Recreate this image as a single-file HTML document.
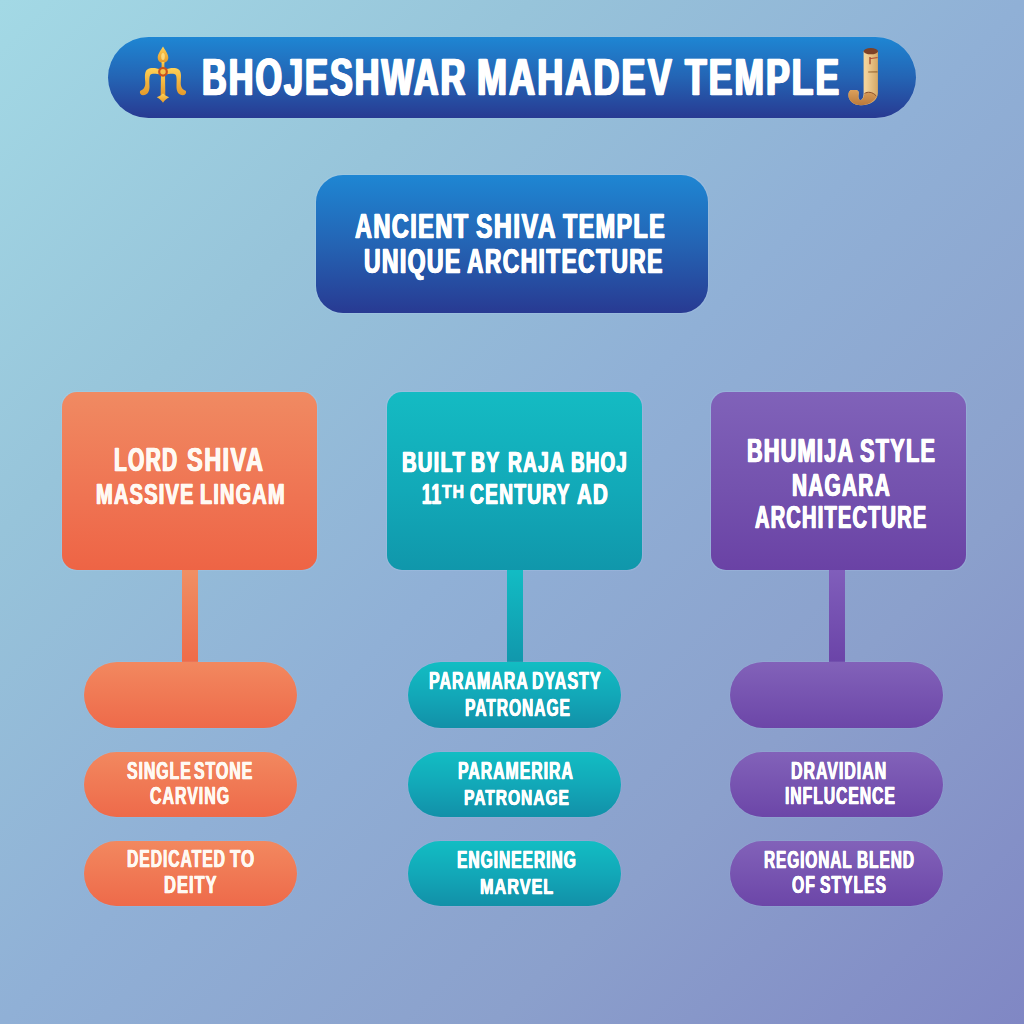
<!DOCTYPE html>
<html><head><meta charset="utf-8">
<style>
html,body{margin:0;padding:0;}
body{width:1024px;height:1024px;overflow:hidden;position:relative;
background:linear-gradient(135deg,#a3d9e5 0%,#97c4da 26%,#90b0d6 50%,#8ba0cc 74%,#8087c4 100%);
font-family:"Liberation Sans",sans-serif;}
.s{position:absolute;box-sizing:border-box;}
.h{box-shadow:0 0 1px 0.5px rgba(195,215,250,0.18);}
.blue{background:linear-gradient(180deg,#1e86d3 0%,#2464b4 50%,#283a92 100%);}
.org{background:linear-gradient(180deg,#f08a62 0%,#ef7352 60%,#ee6445 100%);}
.tea{background:linear-gradient(180deg,#14bbc3 0%,#12a9b8 55%,#1097ab 100%);}
.pur{background:linear-gradient(180deg,#8062b9 0%,#7452ae 55%,#6a42a5 100%);}
.porg{background:linear-gradient(180deg,#f2885f 0%,#ee6a4a 100%);}
.ptea{background:linear-gradient(180deg,#12bdc3 0%,#12a8b8 50%,#1290a8 100%);}
.ppur{background:linear-gradient(180deg,#8262b9 0%,#6c46a8 100%);}
.t{position:absolute;white-space:nowrap;letter-spacing:0.06em;color:#fdfbf6;font-weight:bold;line-height:1;transform-origin:0 0;}
.t sup{font-size:0.62em;vertical-align:0;position:relative;top:-0.42em;}
svg{position:absolute;left:0;top:0;}
</style></head><body>
<!-- title pill -->
<div class="s h blue" style="left:108px;top:37px;width:807.5px;height:81px;border-radius:40.5px;"></div>
<!-- central box -->
<div class="s h blue" style="left:316px;top:175px;width:392px;height:138px;border-radius:27px;"></div>
<!-- three boxes -->
<div class="s h org" style="left:62px;top:392px;width:255px;height:178px;border-radius:15px;"></div>
<div class="s h tea" style="left:387px;top:392px;width:255px;height:178px;border-radius:15px;"></div>
<div class="s h pur" style="left:711px;top:392px;width:255px;height:178px;border-radius:15px;"></div>
<!-- connectors -->
<div class="s" style="left:182px;top:570px;width:16px;height:92px;background:linear-gradient(180deg,#f08f63,#ef6b49);"></div>
<div class="s" style="left:506.5px;top:570px;width:16.5px;height:92px;background:linear-gradient(180deg,#12bcc4,#1197ac);"></div>
<div class="s" style="left:829px;top:570px;width:16.3px;height:92px;background:linear-gradient(180deg,#805ebb,#6b44a8);"></div>
<!-- pills -->
<div class="s h porg" style="left:84px;top:662px;width:213px;height:65.8px;border-radius:33px;"></div>
<div class="s h porg" style="left:84px;top:751.5px;width:213px;height:65.8px;border-radius:33px;"></div>
<div class="s h porg" style="left:84px;top:840.6px;width:213px;height:65.8px;border-radius:33px;"></div>
<div class="s h ptea" style="left:408px;top:662px;width:213px;height:65.8px;border-radius:33px;"></div>
<div class="s h ptea" style="left:408px;top:751.5px;width:213px;height:65.8px;border-radius:33px;"></div>
<div class="s h ptea" style="left:408px;top:840.6px;width:213px;height:65.8px;border-radius:33px;"></div>
<div class="s h ppur" style="left:730px;top:662px;width:213px;height:65.8px;border-radius:33px;"></div>
<div class="s h ppur" style="left:730px;top:751.5px;width:213px;height:65.8px;border-radius:33px;"></div>
<div class="s h ppur" style="left:730px;top:840.6px;width:213px;height:65.8px;border-radius:33px;"></div>
<!-- icons -->
<svg width="1024" height="1024" viewBox="0 0 1024 1024">
<defs>
<linearGradient id="gold" x1="0" y1="0" x2="0" y2="1">
<stop offset="0" stop-color="#ffd257"/><stop offset="0.5" stop-color="#f3b43e"/><stop offset="1" stop-color="#e39a2c"/>
</linearGradient>
<linearGradient id="tan" x1="0" y1="0" x2="1" y2="0">
<stop offset="0" stop-color="#d9b070"/><stop offset="0.15" stop-color="#f7dca6"/><stop offset="0.6" stop-color="#f2d299"/><stop offset="1" stop-color="#d6a865"/>
</linearGradient>
<linearGradient id="hook" x1="0" y1="0" x2="0" y2="1">
<stop offset="0" stop-color="#dca05a"/><stop offset="1" stop-color="#b97a3c"/>
</linearGradient>
</defs>
<!-- trident -->
<g fill="url(#gold)" stroke="none">
<path d="M163 46.5 C161 50 157.7 54 157.7 57.6 C157.7 60.9 160.2 62.9 163 62.9 C165.8 62.9 168.3 60.9 168.3 57.6 C168.3 54 165 50 163 46.5 Z"/>
<rect x="161.6" y="62" width="2.8" height="8"/>
<path d="M161 72 L165 72 L165.3 95 L160.7 95 Z"/>
<path d="M156.8 97.2 C159 96.5 161 95.5 163 93.6 C165 95.5 167 96.5 169.2 97.2 C167 98.2 164.5 100 163 102.8 C161.5 100 159 98.2 156.8 97.2 Z"/>
<path d="M161 69.6 C156 67.6 150.5 67.2 147.3 69.4 C144.6 71.4 144.8 76 145.2 81 C145.6 86 144.6 89 140.4 90.8 C139.2 91.8 140.2 95.3 143 95.3 C147.5 95.3 149.7 91.5 149.5 86 C149.3 81 149.1 76.5 150.4 74.8 C152 73.3 156 73.6 161 74.8 Z"/>
<path d="M 165 69.6 C 170 67.6 175.5 67.2 178.7 69.4 C 181.4 71.4 181.2 76 180.8 81 C 180.4 86 181.4 89 185.6 90.8 C 186.8 91.8 185.8 95.3 183 95.3 C 178.5 95.3 176.3 91.5 176.5 86 C 176.7 81 176.9 76.5 175.6 74.8 C 174 73.3 170 73.6 165 74.8 Z"/>
</g>
<ellipse cx="163" cy="56.5" rx="1.8" ry="3.6" fill="#ffe894" opacity="0.75"/>
<circle cx="163" cy="71.8" r="4.9" fill="#c9521f"/>
<circle cx="163" cy="71.8" r="2.7" fill="#f6c44a"/>
<!-- J scroll -->
<path d="M863.6 51 L863.6 93 C863.6 97 862.5 100 860.5 100 C858.6 100 858 97.5 858.6 93.5 C859 91.5 858 90 855 90 L852 90 C849.5 90 848.4 92 848.4 95 C848.4 101 853.5 105.2 861 105.2 C871 105.2 877.9 100 877.9 93 L877.9 51 Z" fill="url(#tan)"/>
<path d="M848.4 95 C848.4 92 849.5 90 852 90 L855 90 C858 90 859 91.5 858.6 93.5 C858 97.5 858.6 100 860.5 100 C862.5 100 863.6 97 864.5 93.4 C868 91.8 872 92 876.5 96 C875 101 869 105.2 861 105.2 C853.5 105.2 848.4 101 848.4 95 Z" fill="url(#hook)"/>
<ellipse cx="870.8" cy="51.2" rx="7.1" ry="3.1" fill="#7e4126"/>
<path d="M864.5 93.4 C867.5 91.6 872.5 91.6 876.3 96" stroke="#8a4a25" stroke-width="1" fill="none"/>
<path d="M870 57 L870 64.2" stroke="#9a3a22" stroke-width="1.2" fill="none"/>
<path d="M870 58.6 L877.6 57.6" stroke="#b04a30" stroke-width="1" fill="none"/>
<path d="M868.2 72 L877.6 71.8" stroke="#9a6a35" stroke-width="1.2" fill="none"/>
</svg>
<div class="t" style="color:#ffffff;left:201.60px;top:50.53px;font-size:52.59px;transform:scaleX(0.6497);-webkit-text-stroke:0.74px #ffffff;text-shadow:1.60px 0 0 #ffffff,-1.60px 0 0 #ffffff">BHOJESHWAR</div>
<div class="t" style="color:#ffffff;left:477.32px;top:50.53px;font-size:52.59px;transform:scaleX(0.6837);-webkit-text-stroke:0.74px #ffffff;text-shadow:1.50px 0 0 #ffffff,-1.50px 0 0 #ffffff">MAHADEV</div>
<div class="t" style="color:#ffffff;left:684.55px;top:50.53px;font-size:52.59px;transform:scaleX(0.6733);-webkit-text-stroke:0.74px #ffffff;text-shadow:1.53px 0 0 #ffffff,-1.53px 0 0 #ffffff">TEMPLE</div>
<div class="t" style="color:#ffffff;left:355.38px;top:208.56px;font-size:35.41px;transform:scaleX(0.6649);-webkit-text-stroke:0.50px #ffffff;text-shadow:0.90px 0 0 #ffffff,-0.90px 0 0 #ffffff">ANCIENT</div>
<div class="t" style="color:#ffffff;left:476.23px;top:208.56px;font-size:35.41px;transform:scaleX(0.6974);-webkit-text-stroke:0.50px #ffffff;text-shadow:0.85px 0 0 #ffffff,-0.85px 0 0 #ffffff">SHIVA</div>
<div class="t" style="color:#ffffff;left:562.92px;top:208.56px;font-size:35.41px;transform:scaleX(0.6593);-webkit-text-stroke:0.50px #ffffff;text-shadow:0.91px 0 0 #ffffff,-0.91px 0 0 #ffffff">TEMPLE</div>
<div class="t" style="color:#ffffff;left:363.70px;top:243.91px;font-size:35.40px;transform:scaleX(0.6488);-webkit-text-stroke:0.50px #ffffff;text-shadow:0.93px 0 0 #ffffff,-0.93px 0 0 #ffffff">UNIQUE</div>
<div class="t" style="color:#ffffff;left:466.93px;top:243.91px;font-size:35.41px;transform:scaleX(0.6455);-webkit-text-stroke:0.50px #ffffff;text-shadow:0.93px 0 0 #ffffff,-0.93px 0 0 #ffffff">ARCHITECTURE</div>
<div class="t" style="color:#fff9f3;left:114.38px;top:444.41px;font-size:32.36px;transform:scaleX(0.6480);-webkit-text-stroke:0.45px #fff9f3;text-shadow:0.81px 0 0 #fff9f3,-0.81px 0 0 #fff9f3">LORD</div>
<div class="t" style="color:#fff9f3;left:186.70px;top:444.41px;font-size:32.36px;transform:scaleX(0.7282);-webkit-text-stroke:0.45px #fff9f3;text-shadow:0.69px 0 0 #fff9f3,-0.69px 0 0 #fff9f3">SHIVA</div>
<div class="t" style="color:#fff9f3;left:95.63px;top:478.52px;font-size:30.10px;transform:scaleX(0.6663);-webkit-text-stroke:0.42px #fff9f3;text-shadow:0.69px 0 0 #fff9f3,-0.69px 0 0 #fff9f3">MASSIVE</div>
<div class="t" style="color:#fff9f3;left:199.50px;top:478.52px;font-size:30.10px;transform:scaleX(0.6617);-webkit-text-stroke:0.42px #fff9f3;text-shadow:0.70px 0 0 #fff9f3,-0.70px 0 0 #fff9f3">LINGAM</div>
<div class="t" style="color:#ffffff;left:402.22px;top:448.39px;font-size:29.07px;transform:scaleX(0.6952);-webkit-text-stroke:0.41px #ffffff;text-shadow:0.62px 0 0 #ffffff,-0.62px 0 0 #ffffff">BUILT</div>
<div class="t" style="color:#ffffff;left:471.35px;top:448.39px;font-size:29.07px;transform:scaleX(0.6725);-webkit-text-stroke:0.41px #ffffff;text-shadow:0.65px 0 0 #ffffff,-0.65px 0 0 #ffffff">BY</div>
<div class="t" style="color:#ffffff;left:507.65px;top:448.39px;font-size:29.07px;transform:scaleX(0.6626);-webkit-text-stroke:0.41px #ffffff;text-shadow:0.66px 0 0 #ffffff,-0.66px 0 0 #ffffff">RAJA</div>
<div class="t" style="color:#ffffff;left:570.95px;top:448.39px;font-size:29.07px;transform:scaleX(0.6480);-webkit-text-stroke:0.41px #ffffff;text-shadow:0.68px 0 0 #ffffff,-0.68px 0 0 #ffffff">BHOJ</div>
<div class="t" style="color:#ffffff;left:421.73px;top:478.52px;font-size:30.10px;transform:scaleX(0.5595);-webkit-text-stroke:0.42px #ffffff;text-shadow:0.87px 0 0 #ffffff,-0.87px 0 0 #ffffff">11</div>
<div class="t" style="color:#ffffff;left:470.05px;top:478.52px;font-size:30.10px;transform:scaleX(0.6414);-webkit-text-stroke:0.42px #ffffff;text-shadow:0.73px 0 0 #ffffff,-0.73px 0 0 #ffffff">CENTURY</div>
<div class="t" style="color:#ffffff;left:576.65px;top:478.52px;font-size:30.10px;transform:scaleX(0.6769);-webkit-text-stroke:0.42px #ffffff;text-shadow:0.68px 0 0 #ffffff,-0.68px 0 0 #ffffff">AD</div>
<div class="t" style="color:#ffffff;left:442.27px;top:481.50px;font-size:19.03px;transform:scaleX(0.8306);-webkit-text-stroke:0.27px #ffffff;text-shadow:0.19px 0 0 #ffffff,-0.19px 0 0 #ffffff">TH</div>
<div class="t" style="color:#ffffff;left:746.77px;top:435.45px;font-size:32.30px;transform:scaleX(0.6680);-webkit-text-stroke:0.45px #ffffff;text-shadow:0.78px 0 0 #ffffff,-0.78px 0 0 #ffffff">BHUMIJA</div>
<div class="t" style="color:#ffffff;left:860.27px;top:435.45px;font-size:32.30px;transform:scaleX(0.6706);-webkit-text-stroke:0.45px #ffffff;text-shadow:0.77px 0 0 #ffffff,-0.77px 0 0 #ffffff">STYLE</div>
<div class="t" style="color:#ffffff;left:792.05px;top:468.59px;font-size:31.98px;transform:scaleX(0.6518);-webkit-text-stroke:0.45px #ffffff;text-shadow:0.79px 0 0 #ffffff,-0.79px 0 0 #ffffff">NAGARA</div>
<div class="t" style="color:#ffffff;left:754.50px;top:502.61px;font-size:30.68px;transform:scaleX(0.6531);-webkit-text-stroke:0.43px #ffffff;text-shadow:0.74px 0 0 #ffffff,-0.74px 0 0 #ffffff">ARCHITECTURE</div>
<div class="t" style="color:#fff9f3;left:126.50px;top:759.79px;font-size:23.40px;transform:scaleX(0.6778);-webkit-text-stroke:0.33px #fff9f3;text-shadow:0.43px 0 0 #fff9f3,-0.43px 0 0 #fff9f3">SINGLE</div>
<div class="t" style="color:#fff9f3;left:194.30px;top:759.79px;font-size:23.40px;transform:scaleX(0.6790);-webkit-text-stroke:0.33px #fff9f3;text-shadow:0.43px 0 0 #fff9f3,-0.43px 0 0 #fff9f3">STONE</div>
<div class="t" style="color:#fff9f3;left:150.38px;top:785.34px;font-size:23.40px;transform:scaleX(0.6830);-webkit-text-stroke:0.33px #fff9f3;text-shadow:0.42px 0 0 #fff9f3,-0.42px 0 0 #fff9f3">CARVING</div>
<div class="t" style="color:#fff9f3;left:126.85px;top:848.34px;font-size:23.40px;transform:scaleX(0.6711);-webkit-text-stroke:0.33px #fff9f3;text-shadow:0.44px 0 0 #fff9f3,-0.44px 0 0 #fff9f3">DEDICATED</div>
<div class="t" style="color:#fff9f3;left:229.52px;top:848.34px;font-size:23.40px;transform:scaleX(0.7260);-webkit-text-stroke:0.33px #fff9f3;text-shadow:0.39px 0 0 #fff9f3,-0.39px 0 0 #fff9f3">TO</div>
<div class="t" style="color:#fff9f3;left:164.25px;top:874.34px;font-size:23.40px;transform:scaleX(0.7059);-webkit-text-stroke:0.33px #fff9f3;text-shadow:0.41px 0 0 #fff9f3,-0.41px 0 0 #fff9f3">DEITY</div>
<div class="t" style="color:#ffffff;left:428.50px;top:670.29px;font-size:23.40px;transform:scaleX(0.6829);-webkit-text-stroke:0.33px #ffffff;text-shadow:0.42px 0 0 #ffffff,-0.42px 0 0 #ffffff">PARAMARA</div>
<div class="t" style="color:#ffffff;left:532.22px;top:670.29px;font-size:23.40px;transform:scaleX(0.6877);-webkit-text-stroke:0.33px #ffffff;text-shadow:0.42px 0 0 #ffffff,-0.42px 0 0 #ffffff">DYASTY</div>
<div class="t" style="color:#ffffff;left:464.67px;top:696.77px;font-size:23.17px;transform:scaleX(0.6747);-webkit-text-stroke:0.32px #ffffff;text-shadow:0.42px 0 0 #ffffff,-0.42px 0 0 #ffffff">PATRONAGE</div>
<div class="t" style="color:#ffffff;left:458.05px;top:760.27px;font-size:23.17px;transform:scaleX(0.6846);-webkit-text-stroke:0.32px #ffffff;text-shadow:0.41px 0 0 #ffffff,-0.41px 0 0 #ffffff">PARAMERIRA</div>
<div class="t" style="color:#ffffff;left:464.42px;top:786.01px;font-size:22.94px;transform:scaleX(0.6810);-webkit-text-stroke:0.32px #ffffff;text-shadow:0.41px 0 0 #ffffff,-0.41px 0 0 #ffffff">PATRONAGE</div>
<div class="t" style="color:#ffffff;left:457.05px;top:847.93px;font-size:24.71px;transform:scaleX(0.6326);-webkit-text-stroke:0.35px #ffffff;text-shadow:0.52px 0 0 #ffffff,-0.52px 0 0 #ffffff">ENGINEERING</div>
<div class="t" style="color:#ffffff;left:479.80px;top:875.00px;font-size:22.86px;transform:scaleX(0.7111);-webkit-text-stroke:0.32px #ffffff;text-shadow:0.38px 0 0 #ffffff,-0.38px 0 0 #ffffff">MARVEL</div>
<div class="t" style="color:#ffffff;left:790.65px;top:759.94px;font-size:23.25px;transform:scaleX(0.6868);-webkit-text-stroke:0.33px #ffffff;text-shadow:0.42px 0 0 #ffffff,-0.42px 0 0 #ffffff">DRAVIDIAN</div>
<div class="t" style="color:#ffffff;left:785.02px;top:785.23px;font-size:23.51px;transform:scaleX(0.6696);-webkit-text-stroke:0.33px #ffffff;text-shadow:0.44px 0 0 #ffffff,-0.44px 0 0 #ffffff">INFLUCENCE</div>
<div class="t" style="color:#ffffff;left:764.32px;top:849.03px;font-size:23.11px;transform:scaleX(0.6663);-webkit-text-stroke:0.32px #ffffff;text-shadow:0.43px 0 0 #ffffff,-0.43px 0 0 #ffffff">REGIONAL</div>
<div class="t" style="color:#ffffff;left:856.83px;top:849.03px;font-size:23.11px;transform:scaleX(0.6700);-webkit-text-stroke:0.32px #ffffff;text-shadow:0.43px 0 0 #ffffff,-0.43px 0 0 #ffffff">BLEND</div>
<div class="t" style="color:#ffffff;left:792.05px;top:873.36px;font-size:24.68px;transform:scaleX(0.6407);-webkit-text-stroke:0.35px #ffffff;text-shadow:0.51px 0 0 #ffffff,-0.51px 0 0 #ffffff">OF</div>
<div class="t" style="color:#ffffff;left:819.63px;top:873.36px;font-size:24.68px;transform:scaleX(0.6385);-webkit-text-stroke:0.35px #ffffff;text-shadow:0.52px 0 0 #ffffff,-0.52px 0 0 #ffffff">STYLES</div>
</body></html>
